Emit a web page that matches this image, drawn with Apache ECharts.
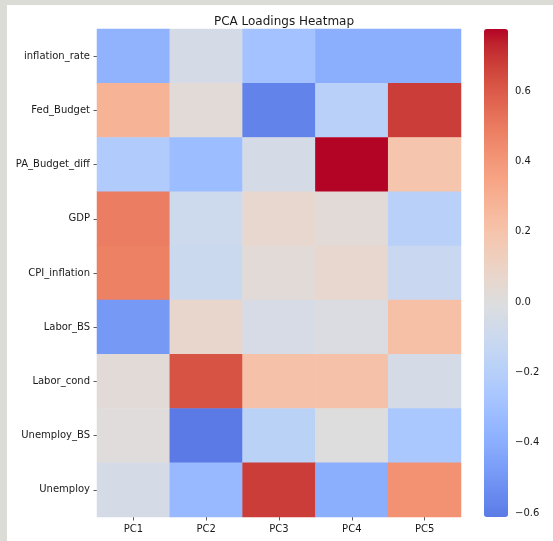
<!DOCTYPE html>
<html>
<head>
<meta charset="utf-8">
<script src="https://cdn.jsdelivr.net/npm/echarts@6/dist/echarts.min.js"></script>
<style>
  html, body { margin: 0; padding: 0; width: 553px; height: 541px; background: #dcdcd7; overflow: hidden; }
  #paper { position: absolute; left: 7px; top: 5px; right: 0; bottom: 0; background: #ffffff; }
  #chart { position: absolute; left: 0; top: 0; width: 553px; height: 541px; }
</style>
</head>
<body>
<div id="paper"></div>
<div id="chart"></div>
<script>
// ---- data ----
const components = ['PC1', 'PC2', 'PC3', 'PC4', 'PC5'];
const variables = ['inflation_rate', 'Fed_Budget', 'PA_Budget_diff', 'GDP', 'CPI_inflation',
                   'Labor_BS', 'Labor_cond', 'Unemploy_BS', 'Unemploy'];
const inflation_rate = [-0.37, -0.05, -0.29, -0.40, -0.40];
const Fed_Budget     = [ 0.28,  0.03, -0.58, -0.19,  0.68];
const PA_Budget_diff = [-0.23, -0.32, -0.05,  0.776, 0.19];
const GDP            = [ 0.49, -0.09,  0.06,  0.025, -0.19];
const CPI_inflation  = [ 0.48, -0.10,  0.03,  0.06, -0.11];
const Labor_BS       = [-0.49,  0.07, -0.04, -0.02,  0.22];
const Labor_cond     = [ 0.03,  0.62,  0.21,  0.21, -0.05];
const Unemploy_BS    = [ 0.01, -0.611, -0.18, 0.00, -0.26];
const Unemploy       = [-0.05, -0.34,  0.68, -0.40,  0.42];
const colorbarTicks  = [-0.6, -0.4, -0.2, 0.0, 0.2, 0.4, 0.6];

const rows = [inflation_rate, Fed_Budget, PA_Budget_diff, GDP, CPI_inflation,
              Labor_BS, Labor_cond, Unemploy_BS, Unemploy];

const cells = [];
rows.forEach((r, yi) => r.forEach((v, xi) => cells.push([xi, yi, v])));
const allVals = cells.map(c => c[2]);
const vmin = Math.min(...allVals);
const vmax = Math.max(...allVals);

// ---- coolwarm colormap (Moreland), centred at 0 like seaborn ----
const coolwarm = [
 [59,76,192],[68,90,204],[77,104,215],[87,117,225],[98,130,234],[108,142,241],[119,154,247],
 [130,165,251],[141,176,254],[152,185,255],[163,194,255],[174,201,253],[184,208,249],
 [194,213,244],[204,217,238],[213,219,230],[221,221,221],[229,216,209],[236,211,197],
 [241,204,185],[245,196,173],[247,187,160],[247,177,148],[247,166,135],[244,154,123],
 [241,141,111],[236,127,99],[229,112,88],[222,96,77],[213,80,66],[203,62,56],[192,40,47],[180,4,38]
];
function cmap(t) {
  t = Math.max(0, Math.min(1, t));
  const p = t * (coolwarm.length - 1);
  const i = Math.min(Math.floor(p), coolwarm.length - 2);
  const f = p - i;
  const a = coolwarm[i], b = coolwarm[i + 1];
  const c = a.map((x, k) => Math.round(x + (b[k] - x) * f));
  return 'rgb(' + c.join(',') + ')';
}
const vrange = Math.max(Math.abs(vmin), Math.abs(vmax));
const cLo = 0.5 + vmin / (2 * vrange);
const cHi = 0.5 + vmax / (2 * vrange);
const stops = [];
const N = 64;
for (let i = 0; i <= N; i++) stops.push(cmap(cLo + (cHi - cLo) * i / N));

function fmt(v) {
  const s = Math.abs(v).toFixed(1);
  return (v < -1e-9 ? '\u2212' : '') + s;
}

const font = 'DejaVu Sans';
const chart = echarts.init(document.getElementById('chart'), null, { renderer: 'canvas' });
chart.setOption({
  backgroundColor: 'transparent',
  animation: false,
  title: {
    text: 'PCA Loadings Heatmap',
    left: 279, top: 11, textAlign: 'center',
    textStyle: { fontFamily: font, fontSize: 12, fontWeight: 'normal', color: '#1a1a1a' }
  },
  grid: [
    { left: 97, top: 29, width: 364, height: 488 },
    { left: 484, top: 29, width: 24, height: 488 }
  ],
  xAxis: [
    {
      type: 'category', gridIndex: 0, data: components,
      axisLine: { show: false },
      axisTick: { show: true, alignWithLabel: true, length: 3.5, lineStyle: { color: '#333', width: 0.8 } },
      axisLabel: { fontFamily: font, fontSize: 10, color: '#1a1a1a', margin: 7 },
      splitLine: { show: false }
    },
    { type: 'value', gridIndex: 1, show: false, min: 0, max: 1 }
  ],
  yAxis: [
    {
      type: 'category', gridIndex: 0, data: variables, inverse: true,
      axisLine: { show: false },
      axisTick: { show: true, alignWithLabel: true, length: 3.5, lineStyle: { color: '#333', width: 0.8 } },
      axisLabel: { fontFamily: font, fontSize: 10, color: '#1a1a1a', margin: 7 },
      splitLine: { show: false }
    },
    {
      type: 'value', gridIndex: 1, position: 'right', min: vmin, max: vmax,
      axisLine: { show: false },
      splitLine: { show: false },
      axisTick: { show: true, length: 3.5, customValues: colorbarTicks, lineStyle: { color: '#333', width: 0.8 } },
      axisLabel: { fontFamily: font, fontSize: 10, color: '#1a1a1a', margin: 7,
                   customValues: colorbarTicks, formatter: fmt }
    }
  ],
  visualMap: {
    type: 'continuous',
    min: vmin, max: vmax,
    calculable: false,
    orient: 'vertical',
    left: 484, top: 29,
    itemWidth: 24, itemHeight: 488,
    padding: 0,
    text: null,
    showLabel: false,
    seriesIndex: 0,
    inRange: { color: stops }
  },
  series: [{
    type: 'heatmap',
    xAxisIndex: 0, yAxisIndex: 0,
    data: cells,
    itemStyle: { borderWidth: 0 },
    emphasis: { disabled: true },
    label: { show: false }
  }]
});
</script>
</body>
</html>
